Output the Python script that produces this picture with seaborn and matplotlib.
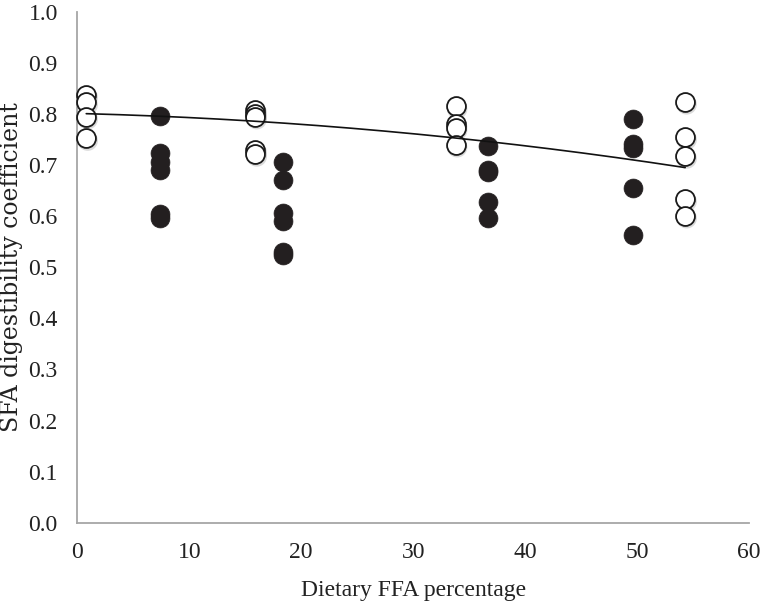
import numpy as np
import pandas as pd
import matplotlib
matplotlib.use("Agg")
import matplotlib.pyplot as plt
import matplotlib.transforms as mtransforms
import seaborn as sns

# ---- data ----
open_x = [0.8, 0.8, 0.8, 0.8,
          15.9, 15.9, 15.9, 15.9, 15.9,
          33.8, 33.8, 33.8, 33.8,
          54.3, 54.3, 54.3, 54.3, 54.3]
open_y = [0.838, 0.823, 0.795, 0.753,
          0.808, 0.800, 0.795, 0.730, 0.722,
          0.815, 0.780, 0.773, 0.740,
          0.824, 0.755, 0.718, 0.634, 0.601]

filled_x = [7.4, 7.4, 7.4, 7.4, 7.4, 7.4,
            18.4, 18.4, 18.4, 18.4, 18.4, 18.4,
            36.7, 36.7, 36.7, 36.7, 36.7,
            49.6, 49.6, 49.6, 49.6, 49.6]
filled_y = [0.796, 0.724, 0.706, 0.690, 0.604, 0.597,
            0.707, 0.672, 0.607, 0.590, 0.530, 0.524,
            0.738, 0.691, 0.687, 0.628, 0.597,
            0.790, 0.742, 0.733, 0.655, 0.563]

# quadratic trend line: intercept, linear, quadratic
trend_coef = [0.8014, -0.000552, -0.0000258]
trend_range = [0.8, 54.3]

x_ticks = [0, 10, 20, 30, 40, 50, 60]
y_ticks = [0.0, 0.1, 0.2, 0.3, 0.4, 0.5, 0.6, 0.7, 0.8, 0.9, 1.0]
x_label = "Dietary FFA percentage"
y_label = "SFA digestibility coefficient"

# ---- style ----
sns.set_theme(style="white")
plt.rcParams["font.family"] = ["Liberation Serif", "DejaVu Serif"]

fig = plt.figure(figsize=(7.6, 6.01), dpi=100)
ax = fig.add_axes([0.1017, 0.1303, 0.9855 - 0.1017, 0.98 - 0.1303])

df_open = pd.DataFrame({"x": open_x, "y": open_y})
df_filled = pd.DataFrame({"x": filled_x, "y": filled_y})

msize = 185

# shadow for open markers
sns.scatterplot(data=df_open, x="x", y="y", ax=ax, s=msize + 30, color="#9a9a9a",
                edgecolor="none", alpha=0.35, legend=False, zorder=2)
shadow = ax.collections[-1]
shadow.set_offset_transform(mtransforms.offset_copy(ax.transData, fig=fig, x=1.5, y=-2.5, units="dots"))

sns.scatterplot(data=df_open, x="x", y="y", ax=ax, s=msize, color="white",
                edgecolor="#1a1a1a", linewidth=1.3, legend=False, zorder=3)
sns.scatterplot(data=df_filled, x="x", y="y", ax=ax, s=msize, color="#231f20",
                edgecolor="#231f20", linewidth=0.5, legend=False, zorder=3)

xx = np.linspace(trend_range[0], trend_range[1], 200)
yy = trend_coef[0] + trend_coef[1] * xx + trend_coef[2] * xx ** 2
sns.lineplot(x=xx, y=yy, ax=ax, color="#111111", linewidth=1.2, zorder=4)

ax.set_xlim(0, 60)
ax.set_ylim(0, 1.0)
ax.set_xticks(x_ticks)
ax.set_yticks(y_ticks)
ax.set_xticklabels([str(t) for t in x_ticks])
ax.set_yticklabels([f"{t:.1f}" for t in y_ticks])
ax.tick_params(axis="both", length=0, labelsize=17, colors="#222222")
ax.tick_params(axis="x", pad=14)
ax.tick_params(axis="y", pad=14)
ax.set_xlabel(x_label, fontsize=17, color="#222222", labelpad=12)
ax.set_ylabel(y_label, fontsize=17, color="#222222", labelpad=4,
              family=["DejaVu Serif"])

for side in ["top", "right"]:
    ax.spines[side].set_visible(False)
for side in ["left", "bottom"]:
    ax.spines[side].set_color("#a6a6a6")
    ax.spines[side].set_linewidth(1.3)
ax.grid(False)
for c in ax.collections:
    c.set_clip_on(False)

fig.savefig("out.png", dpi=100)
